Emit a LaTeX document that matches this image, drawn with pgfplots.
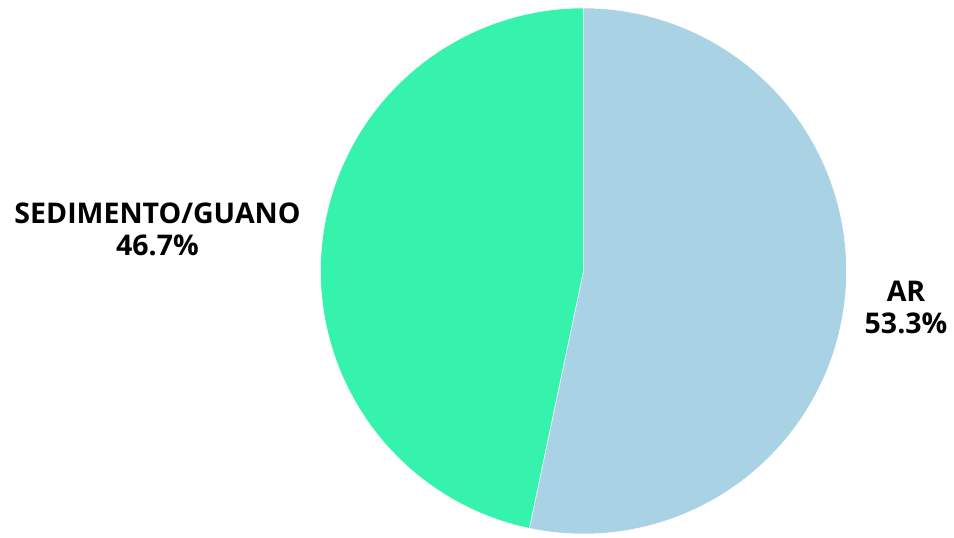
\documentclass[border=0pt]{standalone}
\usepackage{pgfplots}
\pgfplotsset{compat=1.18}
\usepackage{fontspec}
\setmainfont{Open Sans}
\definecolor{arblue}{HTML}{A9D2E5}
\definecolor{sedgreen}{HTML}{35F2AD}
\def\valAR{53.3}
\def\valSed{46.7}
\def\cx{583.5}
\def\cy{267}
\def\rr{263}
\pgfmathsetmacro{\angA}{90-3.6*\valAR}
\pgfmathsetmacro{\angB}{\angA-3.6*\valSed}
\pgfmathsetmacro{\angBpos}{\angA+360}
\begin{document}
\begin{tikzpicture}
\begin{axis}[
  width=954pt, height=538pt, scale only axis,
  xmin=0, xmax=954, ymin=0, ymax=538,
  hide axis, clip=false,
]
\path (rel axis cs:0,0) rectangle (rel axis cs:1,1);
\addplot[fill=arblue, draw=white, line width=0.5pt, domain=\angA:90, samples=200, variable=\t]
  ({\cx+\rr*cos(\t)},{\cy+\rr*sin(\t)}) -- (axis cs:\cx,\cy) -- cycle;
\addplot[fill=sedgreen, draw=white, line width=0.5pt, domain=90:\angBpos, samples=200, variable=\t]
  ({\cx+\rr*cos(\t)},{\cy+\rr*sin(\t)}) -- (axis cs:\cx,\cy) -- cycle;
\node[align=center, font=\fontsize{28.5}{32}\selectfont\bfseries] at (axis cs:157.5,309) {SEDIMENTO/GUANO\\\valSed\%};
\node[align=center, font=\fontsize{28.5}{32}\selectfont\bfseries] at (axis cs:906,231) {AR\\\valAR\%};
\end{axis}
\end{tikzpicture}
\end{document}
